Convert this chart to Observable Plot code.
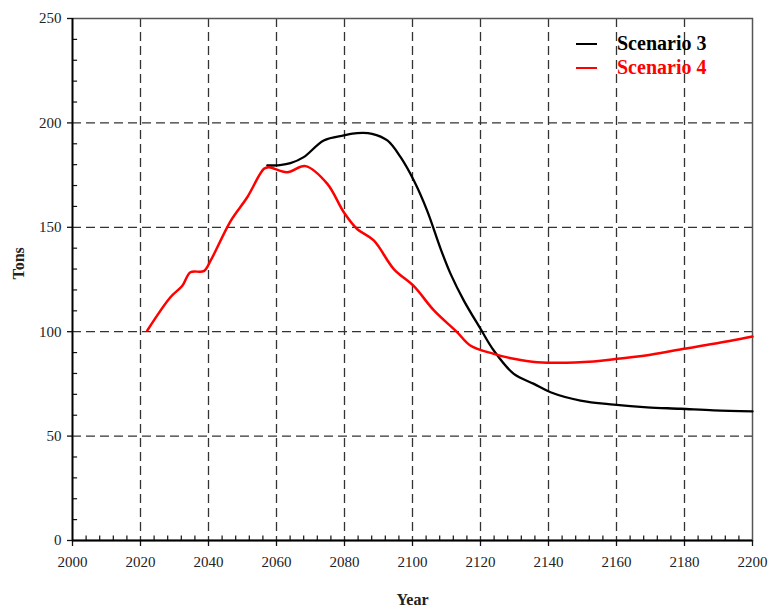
<!DOCTYPE html>
<html>
<head>
<meta charset="utf-8">
<script src="https://cdn.jsdelivr.net/npm/d3@7"></script>
<script src="https://cdn.jsdelivr.net/npm/@observablehq/plot@0.6"></script>
<style>
  html, body { margin: 0; padding: 0; background: #fff; }
  #wrap { position: relative; width: 770px; height: 612px; }
  .legend { position: absolute; font-family: "Times New Roman", "Liberation Serif", serif; font-weight: bold; font-size: 20px; }
  .legend .item { position: absolute; white-space: nowrap; display: flex; align-items: center; }
  .legend .sw { display: inline-block; width: 21px; height: 0; border-top: 2px solid; margin-right: 20px; }
</style>
</head>
<body>
<div id="wrap"></div>
<script>
// Scenario 3 (black)
const s3Years = [2057.3, 2061, 2064.1, 2068, 2073.9, 2079.8, 2083.7, 2088.1, 2092.6, 2096.5, 2100.4, 2104.3, 2108.2, 2111.2, 2115.1, 2120, 2123.9, 2129.8, 2135.7, 2140.6, 2149.4, 2159.2, 2169, 2178.8, 2188.6, 2200];
const s3Tons  = [179.6, 179.8, 180.7, 183.6, 191.6, 194.0, 195.1, 194.8, 191.6, 183.6, 172.4, 158.0, 140.0, 127.7, 114.9, 101.4, 91.0, 79.8, 75.0, 71.0, 67.0, 65.1, 63.8, 63.1, 62.3, 61.8];
// Scenario 4 (red)
const s4Years = [2022, 2028.8, 2032.3, 2034.7, 2038.6, 2040.6, 2046.5, 2051.4, 2056.3, 2057.7, 2063.1, 2068.5, 2074.9, 2079.8, 2083.7, 2088.6, 2094.5, 2100.4, 2106.3, 2113.1, 2117, 2123.9, 2129.8, 2136.7, 2153.3, 2160.2, 2170, 2179.8, 2188.6, 2200];
const s4Tons  = [100.6, 116.5, 122.0, 128.5, 129.0, 134.0, 153.0, 164.4, 178.0, 178.8, 176.4, 179.3, 170.9, 157.2, 149.2, 143.7, 130.0, 121.8, 110.2, 99.8, 93.4, 89.4, 87.0, 85.4, 85.7, 87.0, 89.0, 91.8, 94.2, 97.7];

const xMajor = [2000, 2020, 2040, 2060, 2080, 2100, 2120, 2140, 2160, 2180, 2200];
const xMinor = d3.range(2000, 2201, 4).filter(v => v % 20 !== 0);
const yMajor = [0, 50, 100, 150, 200, 250];
const yMinor = d3.range(0, 251, 10).filter(v => v % 50 !== 0);

const seriesNames = ["Scenario 3", "Scenario 4"];
const seriesColors = ["#000000", "#ff0000"];

const s3 = s3Years.map((y, i) => ({year: y, tons: s3Tons[i]}));
const s4 = s4Years.map((y, i) => ({year: y, tons: s4Tons[i]}));

const serif = "Times New Roman";
const gridStyle = {stroke: "#333", strokeOpacity: 1, strokeWidth: 1.3, strokeDasharray: "9,5"};

const chart = Plot.plot({
  width: 770, height: 612,
  marginLeft: 72, marginRight: 18, marginTop: 18, marginBottom: 72,
  style: {fontFamily: serif, fontSize: "15px", background: "#fff"},
  x: {domain: [2000, 2200]},
  y: {domain: [0, 250]},
  marks: [
    Plot.gridX(xMajor.slice(1, -1), gridStyle),
    Plot.gridY(yMajor.slice(1, -1), gridStyle),
    Plot.frame({stroke: "#555", strokeWidth: 1.5}),
    // minor ticks pointing inward
    Plot.ruleY(yMinor, {y: d => d, x1: 2000, x2: 2001.5, stroke: "#111", strokeWidth: 1.2}),
    Plot.ruleX(xMinor, {x: d => d, y1: 0, y2: 2.2, stroke: "#111", strokeWidth: 1.2}),
    Plot.axisX(xMajor, {tickSize: 6, tickPadding: 10, tickFormat: d => String(d), label: null, stroke: "#111", strokeWidth: 1.3, fill: "#222"}),
    Plot.axisY(yMajor, {tickSize: 5, tickPadding: 6, tickFormat: d => String(d), label: null, stroke: "#111", strokeWidth: 1.3, fill: "#222"}),
    Plot.ruleX([2000], {stroke: "#000", strokeWidth: 1.8}),
    Plot.ruleY([0], {stroke: "#000", strokeWidth: 1.8}),
    Plot.line(s3, {x: "year", y: "tons", stroke: seriesColors[0], strokeWidth: 2.3, curve: "catmull-rom"}),
    Plot.line(s4, {x: "year", y: "tons", stroke: seriesColors[1], strokeWidth: 2.5, curve: "catmull-rom"}),
    Plot.text(["Year"], {frameAnchor: "bottom", dy: 64, fontWeight: "bold", fontSize: 16, fill: "#222"}),
    Plot.text(["Tons"], {frameAnchor: "left", dx: -54, rotate: -90, fontWeight: "bold", fontSize: 16, fill: "#222"})
  ]
});
chart.setAttribute("font-family", serif);

const wrap = document.getElementById("wrap");
wrap.appendChild(chart);

const legend = document.createElement("div");
legend.className = "legend";
legend.style.left = "576px";
legend.style.top = "32px";
seriesNames.forEach((name, i) => {
  const item = document.createElement("div");
  item.className = "item";
  item.style.top = (i * 24) + "px";
  item.style.left = "0px";
  item.style.color = seriesColors[i];
  const sw = document.createElement("span");
  sw.className = "sw";
  sw.style.borderTopColor = seriesColors[i];
  item.appendChild(sw);
  item.appendChild(document.createTextNode(name));
  legend.appendChild(item);
});
wrap.appendChild(legend);
</script>
</body>
</html>
